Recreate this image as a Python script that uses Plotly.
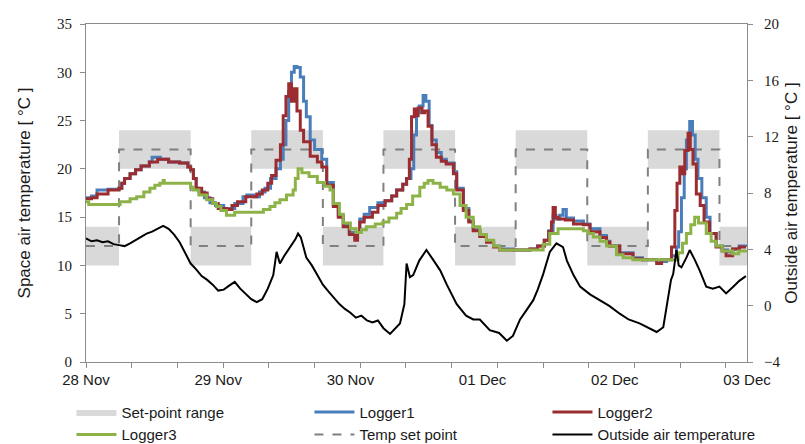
import plotly.graph_objects as go

# ---------------- data ----------------
day_ticks_h = [0, 24, 48, 72, 96, 120]
day_labels = ["28 Nov", "29 Nov", "30 Nov", "01 Dec", "02 Dec", "03 Dec"]

# set-point schedule (hours since 28 Nov 00:00)
sp_hours = [0, 6, 19, 30, 43, 54, 67, 78, 91, 102, 115, 120]
sp_values = [12, 22, 12, 22, 12, 22, 12, 22, 12, 22, 12, 12]
sp_band = 2

logger1_hours = [0, 1, 2, 4, 6, 6.5, 7, 8, 9, 10, 11.5, 12, 13.5, 15, 17, 18.5, 19, 19.5, 20, 20.5, 21.5,
                 22.5, 23.5, 25, 25.8, 27, 28.5, 29.2, 30.5, 31.5, 32.5, 33.5, 34.5, 35.3, 35.8, 36.3, 36.8,
                 37.3, 37.8, 38.3, 38.9, 39.5, 40, 40.7, 41.5, 42.8, 43.7, 44.9, 45.8, 46.7, 47.8, 48.8, 49.3,
                 49.7, 50.5, 51.5, 53, 54.3, 55.5, 56.4, 57.5, 58.2, 59, 59.5, 60, 60.5, 61.2, 61.7, 62.3, 62.8,
                 63.6, 64.5, 65.4, 66.7, 67.3, 68.5, 69.5, 70.3, 71.5, 72.7, 74, 75.1, 77.6, 80.6, 82, 83.2, 84,
                 84.8, 85.3, 86, 86.6, 87.2, 88.5, 90.3, 91.5, 93.3, 94.5, 95.1, 96.9, 99.3, 101, 103.6, 105.4,
                 106.3, 107.2, 107.6, 108.1, 108.6, 109, 109.6, 110.1, 110.6, 111.1, 111.8, 112.6, 113.3, 114.4,
                 115.5, 116.5, 117.4, 118.6, 119.8]
logger1_values = [17.0, 17.2, 17.8, 17.9, 18.0, 18.5, 19.0, 19.5, 19.9, 20.3, 20.7, 21.2, 21.0, 20.7, 20.6, 20.2,
                  19.9, 19.0, 18.0, 17.6, 17.0, 16.5, 16.2, 15.9, 15.9, 16.4, 17.1, 17.3, 17.1, 17.6, 18.0, 19.0,
                  20.0, 21.0, 22.5, 25.0, 28.0, 30.0, 30.6, 30.5, 29.5, 27.0, 25.4, 23.0, 22.0, 21.0, 18.6, 16.3,
                  15.2, 14.2, 13.4, 12.9, 13.4, 14.8, 15.3, 16.0, 16.5, 16.7, 17.2, 17.8, 18.4, 19.0, 20.0, 23.5,
                  25.8, 26.5, 27.6, 27.0, 24.5, 23.0, 21.7, 21.0, 20.6, 19.7, 18.0, 15.9, 14.6, 13.7, 13.1, 12.5,
                  12.0, 11.7, 11.6, 11.7, 12.0, 12.6, 13.6, 15.2, 14.8, 15.2, 15.8, 14.9, 14.6, 14.3, 13.8, 13.1,
                  12.5, 12.0, 11.3, 10.8, 10.6, 10.4, 10.6, 11.0, 11.9, 13.5, 17.0, 20.0, 23.0, 24.9, 23.5, 21.0,
                  19.0, 17.0, 15.0, 13.3, 12.0, 11.6, 11.4, 11.7, 12.0, 11.9]

logger2_hours = [0, 1, 2, 4, 6, 6.5, 7, 8, 9, 10, 11.5, 13, 15, 17, 18.5, 19, 19.5, 20, 21, 22, 23, 24, 25.5,
                 26.5, 27.5, 29, 31, 32, 33, 33.7, 34.5, 35.3, 35.8, 36.3, 36.8, 37.3, 37.8, 38.3, 38.9, 39.5,
                 40.7, 42, 42.8, 43.7, 44.9, 45.8, 46.7, 47.8, 48.8, 49.3, 49.7, 50.5, 52, 53, 54.3, 55.5, 56.4,
                 57.5, 58.2, 58.7, 59.1, 59.6, 60, 60.3, 61, 61.5, 62.1, 62.8, 63.6, 64.5, 65.4, 66.7, 67.3, 68.5,
                 69.5, 70.3, 71.5, 72.7, 74, 75.1, 77.6, 80.6, 82, 83.2, 84, 84.5, 84.8, 85.2, 85.7, 87, 88.5,
                 90.3, 91.5, 93.3, 94.5, 95.1, 96.9, 99.3, 101, 103.6, 104.5, 105.4, 106.3, 106.9, 107.3, 107.8,
                 108.2, 108.7, 109.3, 109.7, 110.2, 110.8, 111.5, 112.2, 113.2, 114.4, 115.5, 116.2, 117.4,
                 118.6, 119.8]
logger2_values = [16.9, 17.0, 17.4, 17.8, 18.0, 18.5, 19.0, 19.5, 19.9, 20.3, 20.7, 21.0, 20.7, 20.6, 20.2,
                  19.9, 19.0, 18.0, 17.5, 16.9, 16.4, 15.9, 15.8, 16.2, 16.6, 17.1, 17.4, 17.8, 18.5, 19.3, 20.9,
                  22.5, 25.5, 27.5, 28.8, 27.0, 28.3, 26.0, 24.0, 22.8, 21.3, 20.7, 20.2, 18.3, 16.1, 15.0, 14.0,
                  13.2, 12.6, 13.4, 14.5, 15.0, 15.5, 16.2, 16.7, 17.2, 17.8, 18.4, 19.0, 21.0, 25.4, 26.2, 25.5,
                  26.3, 25.8, 26.0, 24.4, 22.5, 21.2, 20.8, 20.5, 19.5, 17.8, 15.7, 14.5, 13.6, 13.0, 12.4, 11.9,
                  11.6, 11.6, 11.7, 12.0, 12.6, 13.5, 14.5, 16.0, 15.0, 14.8, 14.7, 14.3, 14.2, 13.5, 12.9, 12.4,
                  12.0, 11.2, 10.7, 10.6, 10.2, 10.6, 10.6, 11.9, 15.7, 18.5, 20.2, 19.5, 21.9, 23.7, 22.0, 20.5,
                  17.4, 16.2, 14.5, 13.3, 11.9, 11.5, 11.0, 11.7, 11.9, 11.9]

logger3_hours = [0, 0.5, 6, 6.2, 8, 9.2, 10.5, 11.6, 12.5, 13.4, 14, 14.2, 18.3, 19, 19.5, 20.5, 21.9, 23,
                 23.7, 24.5, 25.5, 27, 31.1, 32.2, 33.4, 34.3, 35.2, 36.4, 37.6, 38, 38.5, 39.2, 40.5, 42, 43.3,
                 44.3, 44.9, 46, 46.7, 48, 49, 50, 50.9, 52.5, 53.9, 55, 56.4, 57.2, 58.2, 59.3, 60.6, 61.4,
                 62.1, 63, 64.3, 65.5, 66.7, 67.9, 69, 70.3, 71.5, 72.7, 74, 75.1, 81.2, 83, 84.2, 85.7, 90.3,
                 91.2, 92.1, 93.3, 94.5, 96.3, 97.5, 99.3, 106.6, 107.5, 108.3, 109, 109.8, 110.5, 111.2, 112.6,
                 113.5, 114.4, 115.5, 117.4, 118.5, 119.8]
logger3_values = [16.6, 16.3, 16.3, 16.6, 16.9, 17.1, 17.6, 18.0, 18.3, 18.5, 18.8, 18.5, 18.5, 18.1, 17.8,
                  17.3, 16.8, 16.4, 16.1, 15.7, 15.2, 15.5, 15.5, 15.8, 16.1, 16.5, 16.8, 17.3, 17.8, 19.0, 20.0,
                  19.6, 19.2, 18.6, 18.2, 17.8, 16.4, 15.3, 14.4, 13.8, 13.4, 13.7, 14.0, 14.3, 14.5, 14.9, 15.4,
                  15.9, 16.3, 17.2, 18.1, 18.5, 18.8, 18.5, 18.1, 17.8, 17.4, 16.2, 15.0, 14.0, 13.2, 12.6, 12.0,
                  11.6, 11.6, 12.2, 13.3, 13.8, 13.6, 13.3, 12.95, 12.5, 12.0, 11.1, 10.8, 10.6, 10.6, 11.3, 12.3,
                  13.3, 14.2, 15.0, 14.4, 13.3, 12.5, 12.0, 11.5, 11.2, 11.5, 11.6]

outside_hours = [0, 1, 2, 3, 4, 5, 6, 7, 8, 9, 10, 11, 12, 13, 14, 15, 16, 17, 18, 19, 20, 21, 22, 23, 24,
                 25, 26, 27, 28, 29, 30, 31, 32, 33, 34, 34.6, 35.2, 36, 37, 38, 38.5, 39, 40, 41, 42, 43, 44,
                 45, 46, 47, 48, 49, 50, 51, 52, 53, 54, 55.2, 56, 57, 57.8, 58.2, 58.8, 59.4, 60.5, 61.8, 63,
                 64.3, 65.5, 67.3, 69, 70.3, 71.5, 73.3, 75, 76.4, 77.5, 78.8, 80, 81.2, 82, 83, 84.2, 85.4,
                 86.6, 87.3, 88.5, 89.7, 91.5, 93.3, 95, 96.9, 98.5, 100.5, 102, 103.6, 104.8, 105.5, 106.2,
                 106.6, 107.2, 107.6, 108.1, 109, 109.6, 110.5, 111.4, 112.6, 113.8, 115, 116.2, 117.5, 118.6,
                 119.8]
outside_values = [4.78, 4.57, 4.64, 4.50, 4.57, 4.37, 4.30, 4.23, 4.43, 4.64, 4.85, 5.12, 5.26, 5.46, 5.67,
                  5.46, 5.05, 4.50, 3.75, 2.99, 2.58, 2.10, 1.83, 1.49, 1.07, 1.14, 1.42, 1.69, 1.21, 0.80,
                  0.46, 0.25, 0.46, 1.21, 2.17, 3.82, 2.99, 3.54, 4.16, 4.71, 5.12, 4.85, 3.41, 2.86, 2.17,
                  1.49, 1.01, 0.53, 0.11, -0.23, -0.50, -0.85, -0.71, -1.05, -1.19, -1.05, -1.60, -2.01,
                  -1.67, -1.26, 0.11, 2.99, 2.03, 2.17, 3.20, 3.95, 3.27, 2.51, 1.49, 0.11, -0.71, -0.98,
                  -0.98, -1.74, -1.94, -2.49, -2.15, -0.98, -0.30, 0.39, 1.14, 2.24, 3.82, 4.43, 4.16, 3.20,
                  2.17, 1.35, 0.80, 0.39, -0.02, -0.57, -0.98, -1.26, -1.53, -1.87, -1.53, 0.11, 1.83, 2.24,
                  3.95, 2.86, 2.72, 3.41, 3.95, 3.27, 2.51, 1.35, 1.21, 1.35, 0.87, 1.35, 1.76, 2.10]

# ---------------- figure ----------------
sans = "Liberation Sans Narrow, Liberation Sans, Arial, sans-serif"
serif = "Liberation Serif, DejaVu Serif, serif"

fig = go.Figure()

fig.add_trace(go.Scatter(x=sp_hours, y=[v - sp_band for v in sp_values], mode="lines",
                         line=dict(width=0, shape="hv"), showlegend=False, hoverinfo="skip"))
fig.add_trace(go.Scatter(x=sp_hours, y=[v + sp_band for v in sp_values], mode="lines",
                         line=dict(width=0, shape="hv"), fill="tonexty", fillcolor="#d9d9d9",
                         name="Set-point range", legendrank=1))
fig.add_trace(go.Scatter(x=sp_hours, y=sp_values, mode="lines",
                         line=dict(color="#808080", width=2, dash="dash", shape="hv"),
                         name="Temp set point", legendrank=5))
fig.add_trace(go.Scatter(x=logger1_hours, y=logger1_values, mode="lines",
                         line=dict(color="#4a7ebb", width=3, shape="hv"), name="Logger1", legendrank=2))
fig.add_trace(go.Scatter(x=logger2_hours, y=logger2_values, mode="lines",
                         line=dict(color="#9b2d30", width=3, shape="hv"), name="Logger2", legendrank=3))
fig.add_trace(go.Scatter(x=logger3_hours, y=logger3_values, mode="lines",
                         line=dict(color="#8db348", width=3, shape="hv"), name="Logger3", legendrank=4))
fig.add_trace(go.Scatter(x=outside_hours, y=outside_values, mode="lines", yaxis="y2",
                         line=dict(color="#000000", width=2), name="Outside air temperature",
                         legendrank=6))

axis_line = "#8c8c8c"
fig.update_layout(
    width=805, height=444,
    margin=dict(l=86, r=58, t=24, b=82, autoexpand=False),
    paper_bgcolor="white", plot_bgcolor="white",
    xaxis=dict(range=[0, 120], tickvals=day_ticks_h, ticktext=day_labels, ticks="",
               showline=True, linecolor=axis_line, linewidth=1, mirror=True, showgrid=False,
               zeroline=False, ticklabelstandoff=4,
               tickfont=dict(family=sans, size=15, color="#1a1a1a"),
               minor=dict(ticks="outside", dtick=120 / 14.46, tick0=0, ticklen=5,
                          tickcolor=axis_line, showgrid=False)),
    yaxis=dict(range=[0, 35], dtick=5, ticks="outside", ticklen=5, tickcolor=axis_line,
               showline=True, linecolor=axis_line, showgrid=False, zeroline=False,
               ticklabelstandoff=5,
               tickfont=dict(family=serif, size=15, color="#1a1a1a"),
               title=dict(text="Space air temperature [ °C ]", standoff=22,
                          font=dict(family="Liberation Sans, Arial, sans-serif", size=17,
                                    color="#1a1a1a"))),
    yaxis2=dict(range=[-4, 20], dtick=4, overlaying="y", side="right", ticks="outside", ticklen=5,
                tickcolor=axis_line, showline=True, linecolor=axis_line, showgrid=False,
                zeroline=False, ticklabelstandoff=8,
                tickfont=dict(family=serif, size=15, color="#1a1a1a"),
                title=dict(text="Outside air temperature [ °C ]", standoff=5,
                           font=dict(family="Liberation Sans, Arial, sans-serif", size=17,
                                     color="#1a1a1a"))),
    legend=dict(orientation="h", xref="paper", yref="paper", x=-0.022, y=-0.1,
                xanchor="left", yanchor="top", entrywidth=183, entrywidthmode="pixels",
                itemwidth=40, traceorder="normal",
                font=dict(family=sans, size=15, color="#1a1a1a"),
                bgcolor="rgba(0,0,0,0)", tracegroupgap=0),
    showlegend=True,
)

fig.write_html("out.html")
